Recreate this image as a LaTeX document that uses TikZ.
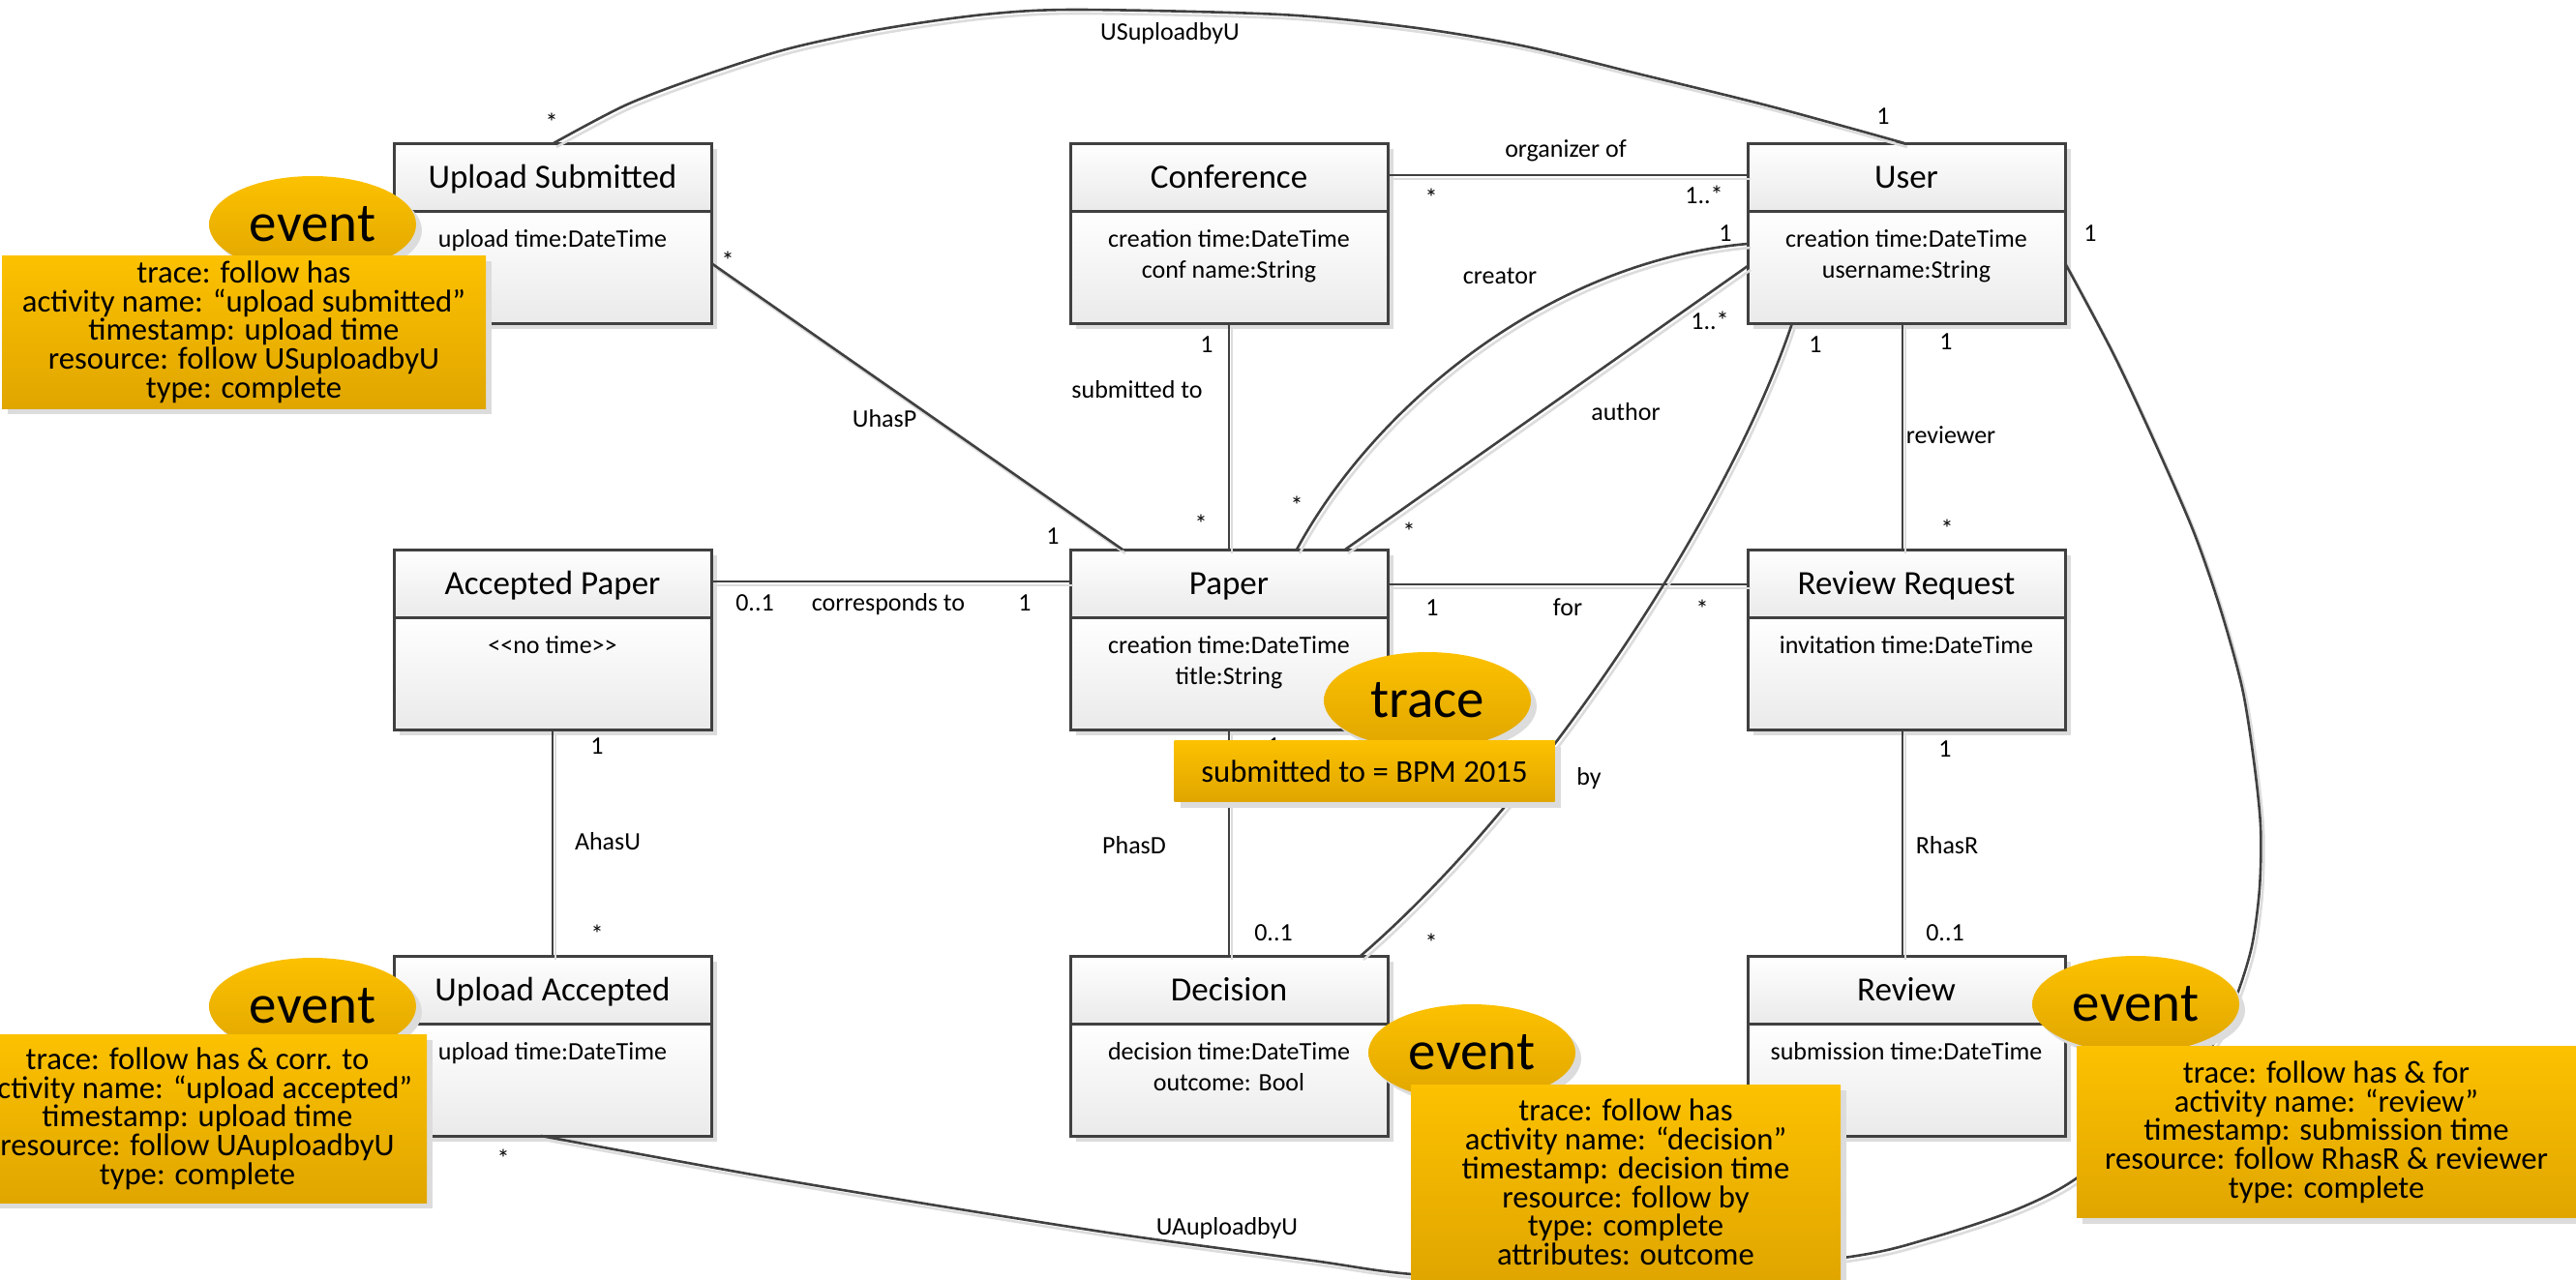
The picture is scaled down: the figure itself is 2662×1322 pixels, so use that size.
\documentclass[tikz,border=0pt]{standalone}
\usepackage{fontspec}
\setmainfont{Carlito}
\usetikzlibrary{shapes.geometric,shadows,calc}
\definecolor{linegray}{RGB}{64,64,64}
\definecolor{boxgray}{RGB}{234,234,234}
\definecolor{evtop}{RGB}{252,193,0}
\definecolor{evbot}{RGB}{224,166,0}
\definecolor{shadowgray}{RGB}{220,220,220}

% one UML class: name, upper-left corner, class name, two attribute lines
\newcommand{\umlclass}[5]{%
  \node[classframe, anchor=north west] (#1) at #2 {};
  \shade[top color=white, bottom color=boxgray] (#1.north west) rectangle ([yshift=-70pt]#1.north east);
  \shade[top color=white, bottom color=boxgray] ([yshift=-70pt]#1.north west) rectangle (#1.south east);
  \draw[frame] (#1.north west) rectangle (#1.south east);
  \draw[frame] ([yshift=-70pt]#1.north west) -- ([yshift=-70pt]#1.north east);
  \node[titletext] (#1-title) at ([yshift=-46pt]#1.north) {#3};
  \node[attrtext] (#1-a1) at ([yshift=-107pt]#1.north) {#4};
  \node[attrtext] (#1-a2) at ([yshift=-139pt]#1.north) {#5};
}

\begin{document}
\begin{tikzpicture}[x=1pt,y=-1pt,
  softshadow/.style={general shadow={fill=shadowgray, shadow xshift=6pt, shadow yshift=-6pt}},
  classframe/.style={rectangle, draw=none, fill=white, minimum width=328pt, minimum height=186pt,
    inner sep=0pt, outer sep=0pt, softshadow},
  frame/.style={draw=linegray, line width=3pt},
  assoc/.style={draw=linegray, line width=2.6pt,
    preaction={draw=shadowgray, line width=2.6pt, transform canvas={shift={(3pt,-4pt)}}}},
  titletext/.style={font=\fontsize{35}{42}\selectfont, anchor=base, inner sep=0pt},
  attrtext/.style={font=\fontsize{26}{31}\selectfont, anchor=base, inner sep=0pt},
  lbl/.style={font=\fontsize{26}{31}\selectfont, inner sep=0pt, text height=18pt, text depth=6pt},
  evell/.style={ellipse, minimum width=214pt, minimum height=100pt, inner sep=0pt,
    top color=evtop, bottom color=evbot, softshadow, font=\fontsize{57}{60}\selectfont},
  evnote/.style={rectangle, inner sep=0pt, top color=evtop, bottom color=evbot, softshadow,
    align=center, font={\fontsize{32.7}{29.7}\selectfont\lineskiplimit=-50pt}},
]
\useasboundingbox (0,0) rectangle (2662,1322);

% ---------------- classes ----------------
\umlclass{us}{(407,148)}{Upload Submitted}{upload time:DateTime}{}
\umlclass{conf}{(1106,148)}{Conference}{creation time:DateTime}{conf name:String}
\umlclass{user}{(1806,148)}{User}{creation time:DateTime}{username:String}
\umlclass{ap}{(407,568)}{Accepted Paper}{{<}{<}no time{>}{>}}{}
\umlclass{paper}{(1106,568)}{Paper}{creation time:DateTime}{title:String}
\umlclass{rr}{(1806,568)}{Review Request}{invitation time:DateTime}{}
\umlclass{ua}{(407,988)}{Upload Accepted}{upload time:DateTime}{}
\umlclass{dec}{(1106,988)}{Decision}{decision time:DateTime}{outcome: Bool}
\umlclass{rev}{(1806,988)}{Review}{submission time:DateTime}{}

% ---------------- associations ----------------
% USuploadbyU
\draw[assoc] plot[smooth] coordinates {([xshift=165pt]us.north west) (648,108) (730,77) (816,50)
  (911,30) (1017,15) (1112,10) (1323,15) (1457,28) (1572,47) (1696,77) (1830,110)
  ([xshift=162pt]user.north west)};
% organizer of
\draw[assoc] ([yshift=-33pt]conf.north east) -- ([yshift=-33pt]user.north west);
% submitted to
\draw[assoc] (conf.south) -- (paper.north);
% UhasP
\draw[assoc] ([yshift=-124pt]us.north east) -- ([xshift=54pt]paper.north west);
% corresponds to
\draw[assoc] ([yshift=-33pt]ap.north east) -- ([yshift=-33pt]paper.north west);
% for
\draw[assoc] ([yshift=-36pt]paper.north east) -- ([yshift=-36pt]rr.north west);
% AhasU, PhasD, RhasR, reviewer
\draw[assoc] (ap.south) -- (ua.north);
\draw[assoc] (paper.south) -- (dec.north);
\draw[assoc] ([xshift=-4pt]rr.south) -- ([xshift=-4pt]rev.north);
\draw[assoc] ([xshift=-4pt]user.south) -- ([xshift=-4pt]rr.north);
% creator
\draw[assoc] ([xshift=234pt]paper.north west) .. controls (1420,420) and (1600,270) .. ([yshift=-104pt]user.north west);
% author
\draw[assoc] ([xshift=284pt]paper.north west) -- ([yshift=-127pt]user.north west);
% by
\draw[assoc] ([shift={(46pt,-186pt)}]user.north west) .. controls (1790,520) and (1600,820) .. ([xshift=300pt]dec.north west);
% UAuploadbyU
\draw[assoc] plot[smooth] coordinates {([xshift=152pt]ua.south west) (783,1215) (974,1247)
  (1165,1277) (1357,1303) (1459,1317) (1650,1328) (1905,1300) (1994,1280) (2084,1250)
  (2147,1217) (2225,1150) (2290,1075) (2311,1030) (2327,978) (2335,918) (2336,854)
  (2329,786) (2317,711) (2295,631) (2267,550) (2227,458) (2184,366)
  ([yshift=-124pt]user.north east)};

% ---------------- association labels ----------------
\node[lbl] (l-usu)   at (1209,36)  {USuploadbyU};
\node[lbl] (m-usu1)  at (570,129)  {*};
\node[lbl] (m-usu2)  at (1946,122) {1};
\node[lbl] (l-org)   at (1618,156) {organizer of};
\node[lbl] (m-org1)  at (1479,207) {*};
\node[lbl] (m-org2)  at (1761,204) {1..*};
\node[lbl] (l-cre)   at (1550,287) {creator};
\node[lbl] (m-cre1)  at (1340,525) {*};
\node[lbl] (m-cre2)  at (1783,243) {1};
\node[lbl] (l-aut)   at (1680,428) {author};
\node[lbl] (m-aut1)  at (1456,552) {*};
\node[lbl] (m-aut2)  at (1767,334) {1..*};
\node[lbl] (l-by)    at (1642,805) {by};
\node[lbl] (m-by1)   at (1876,358) {1};
\node[lbl] (m-by2)   at (1479,977) {*};
\node[lbl] (l-rev)   at (2016,452) {reviewer};
\node[lbl] (m-rev1)  at (2011,355) {1};
\node[lbl] (m-rev2)  at (2012,549) {*};
\node[lbl] (m-uau1)  at (2160,243) {1};
\node[lbl] (m-uau2)  at (520,1200) {*};
\node[lbl] (l-uau)   at (1268,1270) {UAuploadbyU};
\node[lbl] (l-uhp)   at (914,435)  {UhasP};
\node[lbl] (m-uhp1)  at (752,272)  {*};
\node[lbl] (m-uhp2)  at (1088,556) {1};
\node[lbl] (l-sub)   at (1175,405) {submitted to};
\node[lbl] (m-sub1)  at (1247,358) {1};
\node[lbl] (m-sub2)  at (1241,544) {*};
\node[lbl] (l-cor)   at (918,625)  {corresponds to};
\node[lbl] (m-cor1)  at (780,625)  {0..1};
\node[lbl] (m-cor2)  at (1059,625) {1};
\node[lbl] (l-for)   at (1620,630) {for};
\node[lbl] (m-for1)  at (1480,630) {1};
\node[lbl] (m-for2)  at (1759,632) {*};
\node[lbl] (l-ahu)   at (628,872)  {AhasU};
\node[lbl] (m-ahu1)  at (617,773)  {1};
\node[lbl] (m-ahu2)  at (617,968)  {*};
\node[lbl] (l-phd)   at (1172,876) {PhasD};
\node[lbl] (m-phd1)  at (1316,773) {1};
\node[lbl] (m-phd2)  at (1316,966) {0..1};
\node[lbl] (l-rhr)   at (2012,876) {RhasR};
\node[lbl] (m-rhr1)  at (2010,776) {1};
\node[lbl] (m-rhr2)  at (2010,966) {0..1};

% ---------------- event / trace annotations ----------------
\node[evell] (usev) at (323,232) {event};
\node[evnote, minimum width=500pt, minimum height=158pt] (usnote) at (252,343)
  {trace: follow has\\activity name: “upload submitted”\\timestamp: upload time\\resource: follow USuploadbyU\\type: complete};

\node[evell] (uaev) at (323,1040) {event};
\node[evnote, minimum width=474pt, minimum height=174pt] (uanote) at (204,1156)
  {trace: follow has \& corr. to\\activity name: “upload accepted”\\timestamp: upload time\\resource: follow UAuploadbyU\\type: complete};

\node[evell] (decev) at (1521,1088) {event};
\node[evnote, minimum width=444pt, minimum height=202pt] (decnote) at (1680,1222)
  {trace: follow has\\activity name: “decision”\\timestamp: decision time\\resource: follow by\\type: complete\\attributes: outcome};

\node[evell] (revev) at (2207,1038) {event};
\node[evnote, minimum width=516pt, minimum height=177pt] (revnote) at (2404,1170)
  {trace: follow has \& for\\activity name: “review”\\timestamp: submission time\\resource: follow RhasR \& reviewer\\type: complete};

\node[evell] (trev) at (1475,724) {trace};
\node[evnote, minimum width=393pt, minimum height=63pt] (trnote) at (1410,797)
  {submitted to = BPM 2015};
\end{tikzpicture}
\end{document}
